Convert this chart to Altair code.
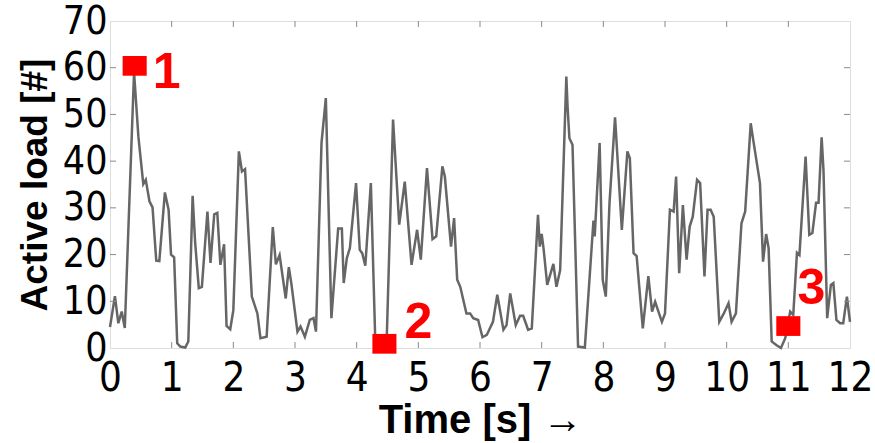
import altair as alt
import pandas as pd

# Time series (s, active load)
time_s = [0, 0.08, 0.135, 0.19, 0.24, 0.39, 0.46, 0.54, 0.58, 0.64, 0.69, 0.75, 0.80, 0.89, 0.95, 0.99, 1.04,
          1.09, 1.14, 1.22, 1.27, 1.34, 1.38, 1.44, 1.49, 1.58, 1.63, 1.69, 1.74, 1.79, 1.85, 1.89, 1.95,
          2.0, 2.09, 2.14, 2.19, 2.30, 2.39, 2.44, 2.54, 2.64, 2.69, 2.75, 2.85, 2.90, 2.94, 3.04,
          3.09, 3.16, 3.24, 3.30, 3.34, 3.43, 3.50, 3.59, 3.70, 3.76, 3.79, 3.84, 3.89, 3.99, 4.05, 4.09,
          4.14, 4.23, 4.30, 4.35, 4.43, 4.49, 4.59, 4.69, 4.78, 4.89, 4.98, 5.04, 5.14, 5.23, 5.29, 5.39,
          5.43, 5.53, 5.58, 5.63, 5.68, 5.78, 5.84, 5.89, 5.97, 6.04, 6.11, 6.21, 6.28, 6.38, 6.43, 6.49,
          6.58, 6.65, 6.70, 6.78, 6.84, 6.94, 6.97, 7.0, 7.03, 7.09, 7.19, 7.24, 7.30, 7.40, 7.42, 7.45,
          7.50, 7.59, 7.70, 7.84, 7.86, 7.94, 7.99, 8.04, 8.10, 8.19, 8.30, 8.39, 8.43, 8.49, 8.54, 8.64,
          8.73, 8.79, 8.84, 8.95, 9.0, 9.08, 9.14, 9.18, 9.23, 9.29, 9.35, 9.40, 9.45, 9.52, 9.57, 9.64,
          9.69, 9.74, 9.79, 9.88, 9.95, 10.03, 10.08, 10.15, 10.24, 10.30, 10.39, 10.43, 10.54, 10.59,
          10.64, 10.68, 10.73, 10.81, 10.88, 10.95, 11.03, 11.08, 11.14, 11.18, 11.28, 11.34, 11.39,
          11.45, 11.49, 11.54, 11.57, 11.63, 11.69, 11.73, 11.78, 11.84, 11.89, 11.95, 12.0]
load = [4.5, 11.1, 5.3, 7.8, 4.3, 59, 45.3, 35.1, 36.0, 31.4, 30.1, 18.7, 18.6, 33.3, 29.6, 20.0, 19.4,
        1.0, 0.3, 0.1, 1.4, 32.6, 22.7, 12.8, 13.1, 29.2, 18.2, 28.6, 28.9, 17.8, 22.2, 4.7, 4.0,
        8.1, 42.1, 37.8, 38.3, 11.0, 7.4, 2.1, 2.4, 25.9, 17.9, 19.9, 10.6, 17.3, 13.9, 3.5,
        4.6, 2.4, 6.0, 6.4, 3.5, 43.9, 53.5, 6.4, 25.6, 25.6, 13.9, 19.2, 21.4, 35.3, 21.0, 20.3,
        17.6, 35.3, 2.4, 0.2, 0.2, 3.1, 48.9, 26.4, 35.6, 17.8, 25.3, 18.9, 38.5, 23.3, 23.9, 38.9,
        36.7, 21.7, 27.8, 14.6, 13.1, 7.4, 7.4, 6.4, 6.0, 2.3, 2.8, 5.6, 11.4, 3.9, 4.9, 11.7,
        4.9, 6.9, 6.9, 3.9, 4.2, 28.5, 21.7, 24.4, 21.4, 13.5, 18.0, 13.1, 16.7, 58.1, 51.7, 44.9,
        43.5, 0.3, 0.1, 27.3, 23.9, 43.9, 14.6, 11.0, 31.0, 49.4, 25.3, 42.1, 40.6, 20.3, 19.7, 4.2,
        15.4, 7.8, 9.9, 5.6, 7.4, 29.6, 29.2, 36.7, 16.0, 30.6, 18.9, 26.0, 28.1, 36.0, 35.3, 15.3,
        29.6, 29.6, 28.1, 5.6, 7.3, 9.6, 5.6, 7.4, 26.7, 29.2, 48.1, 44.6, 35.3, 18.5,
        24.4, 21.4, 1.4, 0.6, 0.0, 2.1, 7.8, 7.1, 20.4, 19.9, 41.0, 24.2, 24.6,
        31.1, 31.1, 45.1, 38.1, 6.4, 13.5, 13.9, 6.0, 5.3, 5.3, 11.0, 5.6]

# Highlighted points
mark_t = [0.40, 4.45, 11.0]
mark_v = [60.4, 0.9, 4.7]
mark_lbl = ["1", "2", "3"]

x_ticks = list(range(0, 13))
y_ticks = list(range(0, 80, 10))
x_inner = list(range(1, 12))
y_inner = list(range(10, 70, 10))

W, H = 740, 327
FONT = "Liberation Sans"
NARROW = "Liberation Sans Narrow, DejaVu Sans Condensed, Liberation Sans"
GRAY = "#8a8a8a"

xs = alt.Scale(domain=[0, 12], nice=False, zero=False)
ys = alt.Scale(domain=[0, 70], nice=False, zero=False)

df = pd.DataFrame({"t": time_s, "v": load})
mk = pd.DataFrame({"t": mark_t, "v": mark_v, "lbl": mark_lbl})
xt = pd.DataFrame({"t": x_inner})
yt = pd.DataFrame({"v": y_inner})

line = alt.Chart(df).mark_line(color="#666666", strokeWidth=2.5).encode(
    x=alt.X("t:Q", scale=xs,
            axis=alt.Axis(values=x_ticks, format="d", title="Time [s] \u2192", domain=False, grid=False,
                          tickSize=0, labelPadding=10, labelFontSize=40, labelFont=NARROW,
                          labelOverlap=False, labelColor="black", titleFont=FONT, titleFontSize=40,
                          titleFontWeight="bold", titleColor="black", titlePadding=2, labelFlush=False)),
    y=alt.Y("v:Q", scale=ys,
            axis=alt.Axis(values=y_ticks, format="d", title="Active load [#]", domain=False, grid=False,
                          tickSize=0, labelPadding=3, labelFontSize=39, labelFont=NARROW,
                          labelOverlap=False, labelColor="black", titleFont=FONT, titleFontSize=37,
                          titleFontWeight="bold", titleColor="black", titlePadding=8, labelFlush=False)),
)

tick_bot = alt.Chart(xt).mark_rule(color=GRAY, strokeWidth=1).encode(
    x=alt.X("t:Q", scale=xs), y=alt.value(H), y2=alt.value(H - 6))
tick_top = alt.Chart(xt).mark_rule(color=GRAY, strokeWidth=1).encode(
    x=alt.X("t:Q", scale=xs), y=alt.value(0), y2=alt.value(6))
tick_left = alt.Chart(yt).mark_rule(color=GRAY, strokeWidth=1).encode(
    y=alt.Y("v:Q", scale=ys), x=alt.value(0), x2=alt.value(6))
tick_right = alt.Chart(yt).mark_rule(color=GRAY, strokeWidth=1).encode(
    y=alt.Y("v:Q", scale=ys), x=alt.value(W), x2=alt.value(W - 6))

squares = alt.Chart(mk).mark_point(
    shape="M-1,-0.82L1,-0.82L1,0.82L-1,0.82Z", filled=True, color="#ff0000", opacity=1, size=580
).encode(x=alt.X("t:Q", scale=xs), y=alt.Y("v:Q", scale=ys))

def label(i, dx, dy):
    return alt.Chart(mk.iloc[[i]]).mark_text(
        font=FONT, fontSize=50, fontWeight="bold", color="#ff0000", dx=dx, dy=dy, baseline="middle"
    ).encode(x=alt.X("t:Q", scale=xs), y=alt.Y("v:Q", scale=ys), text="lbl:N")

chart = alt.layer(
    line, tick_bot, tick_top, tick_left, tick_right, squares,
    label(0, 32, 7), label(1, 34, -21), label(2, 23, -37)
).properties(
    width=W, height=H, autosize="none",
    padding={"left": 110, "top": 21, "right": 25, "bottom": 95}
).configure_view(stroke=GRAY, strokeWidth=1.5).configure(background="white")

chart.save("out.html", embed_options={"renderer": "svg", "actions": False})
